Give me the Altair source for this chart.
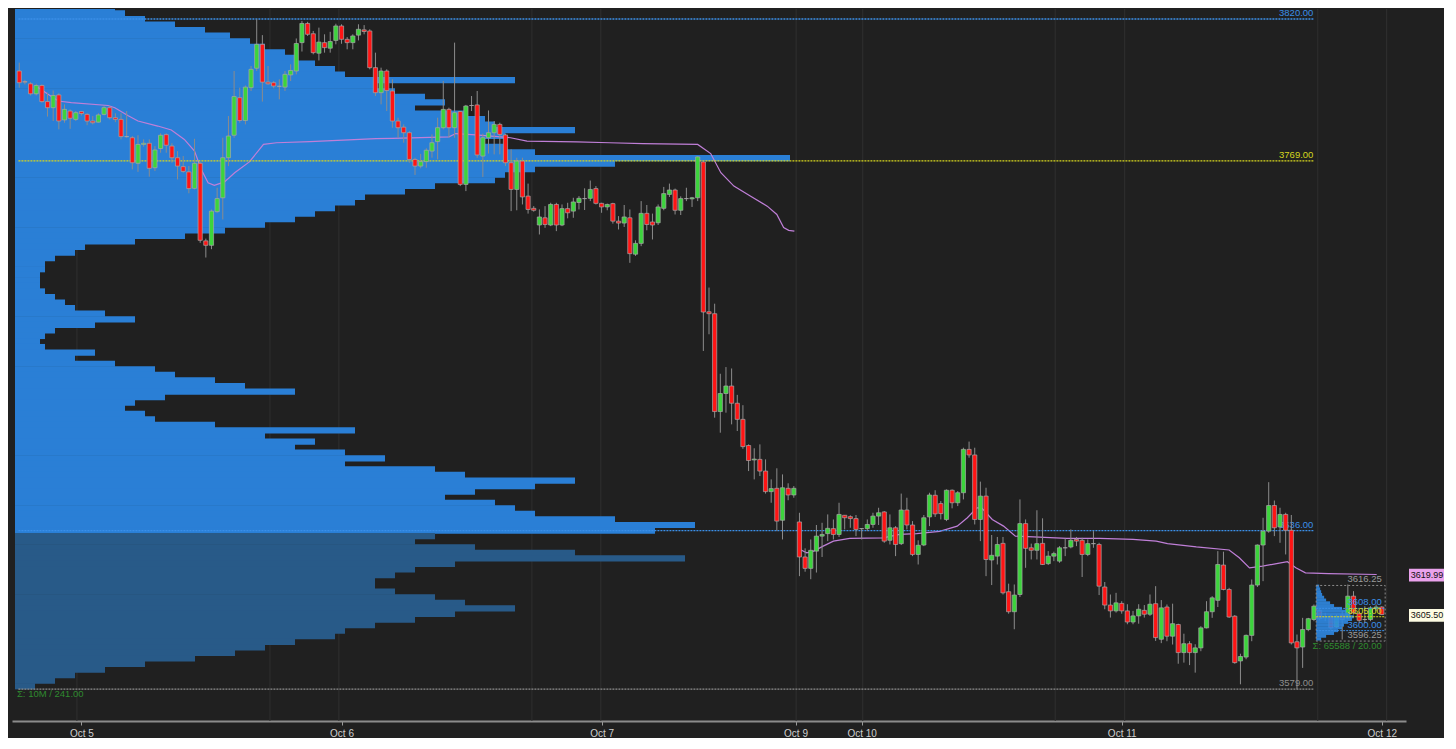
import altair as alt
import pandas as pd

# ---------------- data ----------------
opens = [3801.3,3797.5,3796.7,3793.1,3796.1,3790.3,3788.1,3792.7,3783.7,3786.9,3783.9,3786.7,3785.7,3783.3,3782.9,3785.7,3788.1,3784.5,3783.9,3777.7,
         3777.3,3768.1,3774.9,3775.3,3766.5,3773.4,3778.4,3774.3,3770.1,3766.9,3765.0,3759.1,3768.1,3740.2,3738.6,3750.7,3755.7,3770.1,3778.2,3791.7,
         3783.5,3795.3,3802.3,3810.9,3797.3,3797.1,3795.8,3795.5,3799.9,3801.3,3811.5,3818.4,3814.7,3807.7,3811.5,3809.5,3812.3,3817.5,3812.7,3811.5,
         3814.2,3816.1,3815.7,3802.5,3793.5,3801.3,3794.1,3783.3,3781.1,3779.1,3769.5,3767.1,3768.7,3772.5,3775.9,3780.9,3787.5,3780.9,3786.7,3760.5,
         3788.9,3789.1,3770.7,3777.3,3779.1,3782.1,3778.3,3768.3,3758.7,3768.9,3756.3,3751.9,3745.9,3748.5,3745.9,3753.3,3745.9,3751.8,3750.9,3754.0,
         3755.4,3755.5,3759.0,3753.7,3752.4,3753.6,3747.3,3746.6,3748.5,3735.4,3739.3,3750.1,3747.0,3746.7,3751.9,3756.9,3758.5,3751.2,3755.4,3755.3,
         3755.7,3768.6,3714.7,3714.0,3678.8,3685.3,3688.0,3681.8,3676.0,3666.6,3661.4,3661.6,3657.4,3650.0,3651.2,3639.7,3651.2,3648.8,3639.1,3626.5,
         3622.4,3628.6,3634.0,3634.9,3636.7,3634.6,3641.5,3641.0,3640.3,3636.7,3636.7,3638.2,3641.2,3642.7,3632.5,3637.0,3631.3,3643.4,3638.0,3627.4,
         3630.8,3640.9,3648.7,3645.7,3640.0,3650.5,3646.0,3649.6,3665.2,3663.2,3640.0,3648.4,3625.4,3626.8,3631.4,3614.0,3606.8,3613.0,3638.5,3629.8,
         3628.9,3631.4,3624.1,3626.8,3625.0,3629.8,3630.1,3632.8,3632.5,3627.4,3631.3,3631.0,3615.7,3609.2,3607.1,3609.8,3607.1,3603.1,3605.3,3607.3,
         3605.9,3609.7,3596.9,3608.5,3598.0,3602.2,3592.1,3595.3,3592.1,3593.8,3601.0,3606.8,3610.9,3623.6,3614.8,3605.2,3589.1,3590.5,3598.3,3616.4,
         3630.8,3635.8,3645.0,3637.3,3641.8,3636.1,3596.0,3594.1,3600.4,3604.0,3607.3,3604.9,3605.2,3601.3,3605.6,3604.6,3612.4,3606.1,3604.0,3604.0,
         3608.0,3608.5]
highs = [3804.3,3798.1,3797.3,3796.7,3796.5,3793.5,3794.3,3793.3,3789.3,3787.5,3786.9,3786.9,3786.1,3785.1,3786.1,3788.7,3788.7,3786.1,3786.1,3786.9,
         3777.9,3778.2,3776.7,3776.7,3774.3,3778.9,3778.9,3775.3,3772.5,3770.7,3767.1,3776.9,3768.6,3741.0,3751.5,3759.3,3777.3,3785.1,3801.3,3795.3,
         3796.1,3803.1,3819.9,3814.2,3803.1,3797.7,3798.3,3801.3,3803.7,3813.0,3819.3,3819.0,3815.7,3816.9,3814.5,3815.4,3818.3,3818.1,3813.5,3814.5,
         3818.1,3817.8,3816.3,3807.9,3802.5,3801.9,3798.3,3784.5,3782.1,3779.7,3770.1,3771.5,3773.5,3778.5,3784.5,3797.7,3788.1,3811.5,3786.9,3789.1,
         3792.3,3794.1,3778.8,3787.1,3783.3,3782.7,3778.8,3773.1,3770.1,3770.1,3760.8,3752.7,3751.5,3752.7,3753.9,3753.9,3753.3,3753.9,3755.7,3756.3,
         3759.1,3761.9,3759.9,3753.9,3753.6,3753.9,3749.1,3753.1,3751.5,3740.4,3754.5,3753.1,3750.0,3753.3,3759.6,3760.8,3759.0,3756.2,3759.3,3756.0,
         3770.7,3768.9,3723.4,3717.6,3692.4,3694.8,3694.3,3684.8,3681.1,3667.0,3665.6,3667.0,3661.6,3654.4,3658.4,3656.2,3653.0,3652.0,3642.4,3629.6,
         3632.8,3638.0,3638.8,3641.8,3640.0,3646.0,3641.6,3641.5,3641.6,3636.8,3640.0,3642.4,3644.2,3643.0,3641.8,3637.6,3649.3,3647.8,3639.4,3632.5,
         3641.6,3649.6,3650.5,3646.6,3650.8,3650.8,3650.2,3665.8,3668.0,3665.8,3653.6,3651.4,3634.4,3633.7,3633.7,3616.9,3616.6,3647.2,3640.0,3631.3,
         3643.3,3640.4,3628.6,3628.4,3630.4,3633.2,3636.4,3633.7,3633.4,3632.8,3635.8,3631.6,3617.5,3613.0,3613.6,3610.6,3609.5,3607.1,3609.5,3609.2,
         3613.0,3616.0,3611.0,3609.4,3609.7,3602.5,3598.9,3596.2,3595.1,3601.6,3610.6,3612.4,3628.6,3628.4,3615.4,3605.6,3591.7,3598.6,3618.4,3631.0,
         3640.6,3653.4,3646.8,3644.2,3642.4,3641.6,3598.6,3604.6,3604.6,3609.4,3607.6,3606.4,3605.8,3605.8,3607.0,3616.6,3614.2,3606.8,3608.8,3608.8,
         3609.4,3608.8]
lows = [3795.3,3796.5,3792.5,3792.5,3789.9,3784.9,3783.3,3780.3,3782.7,3780.5,3783.3,3785.3,3781.8,3782.1,3782.7,3785.3,3783.9,3782.9,3776.7,3777.3,
        3765.9,3765.0,3774.1,3763.3,3765.3,3771.9,3771.9,3768.3,3762.3,3764.7,3757.3,3758.7,3739.5,3734.2,3737.2,3750.3,3747.9,3767.1,3777.3,3782.7,
        3782.1,3794.1,3801.3,3790.3,3796.3,3795.1,3791.1,3794.1,3797.7,3800.1,3808.3,3813.9,3807.3,3805.1,3807.9,3807.9,3810.9,3811.1,3809.1,3809.1,
        3812.3,3814.5,3801.9,3792.3,3789.3,3786.9,3780.9,3777.3,3775.5,3768.3,3763.9,3766.3,3766.5,3770.1,3769.5,3780.3,3777.3,3777.3,3759.9,3758.1,
        3786.9,3770.1,3763.2,3771.6,3771.3,3771.3,3767.1,3750.9,3751.2,3753.3,3750.0,3750.7,3742.5,3744.9,3745.5,3743.7,3745.5,3748.3,3748.5,3751.5,
        3751.3,3754.5,3753.3,3750.3,3751.2,3746.4,3744.3,3745.2,3732.3,3734.8,3738.3,3744.0,3740.7,3745.9,3751.2,3756.0,3749.7,3749.5,3754.5,3752.4,
        3754.5,3700.6,3706.6,3676.6,3671.2,3678.4,3674.2,3671.8,3665.4,3657.4,3654.4,3655.6,3649.3,3646.0,3635.8,3632.8,3646.9,3647.8,3619.6,3621.2,
        3618.5,3620.9,3626.5,3632.2,3632.8,3633.7,3636.4,3637.0,3634.0,3632.8,3635.8,3637.0,3638.0,3631.6,3631.0,3626.8,3630.8,3636.4,3626.8,3623.8,
        3630.4,3637.6,3640.9,3640.0,3639.4,3644.0,3644.8,3647.2,3662.2,3638.2,3632.2,3619.6,3616.4,3623.8,3613.0,3606.1,3600.5,3612.1,3622.6,3625.6,
        3625.6,3623.6,3623.6,3625.0,3624.4,3626.8,3629.6,3630.4,3619.3,3626.8,3629.8,3612.8,3607.7,3604.7,3606.5,3606.1,3602.3,3602.3,3602.5,3604.7,
        3605.3,3596.3,3595.5,3596.2,3595.0,3588.1,3588.5,3587.6,3584.9,3592.6,3600.8,3604.6,3608.5,3614.5,3604.6,3588.1,3580.7,3589.7,3596.2,3615.7,
        3617.8,3635.2,3634.0,3631.6,3627.4,3595.0,3578.9,3586.6,3599.8,3603.4,3603.7,3603.4,3600.4,3601.0,3596.8,3604.0,3605.8,3602.8,3602.8,3603.4,
        3607.0,3605.6]
closes = [3797.1,3797.3,3793.1,3796.1,3790.3,3788.1,3792.5,3783.3,3787.5,3784.3,3786.3,3786.0,3783.3,3782.7,3785.5,3788.1,3784.5,3783.9,3777.7,3777.7,
          3768.3,3774.9,3775.3,3766.3,3772.9,3778.2,3774.6,3770.1,3767.1,3765.2,3759.0,3768.1,3740.4,3738.6,3750.9,3755.4,3770.1,3777.9,3792.1,3783.5,
          3795.5,3801.9,3810.9,3797.3,3796.7,3795.9,3795.8,3800.1,3801.5,3811.2,3818.4,3814.5,3807.9,3811.7,3809.7,3811.9,3817.5,3812.7,3811.5,3813.9,
          3816.3,3815.5,3802.5,3793.5,3801.3,3794.3,3783.3,3780.9,3779.1,3769.5,3767.1,3768.7,3772.8,3775.5,3780.9,3787.5,3780.9,3786.3,3760.5,3788.7,
          3788.9,3771.1,3777.3,3779.1,3782.1,3778.5,3768.3,3758.7,3768.9,3756.0,3751.5,3751.2,3748.8,3746.1,3753.3,3745.9,3751.8,3750.3,3754.2,3755.5,
          3755.4,3758.7,3753.7,3752.4,3753.3,3747.3,3746.6,3748.8,3735.6,3739.3,3750.1,3746.1,3745.9,3752.4,3757.2,3758.5,3751.2,3755.4,3755.4,3755.7,
          3770.4,3714.6,3714.0,3678.8,3685.3,3688.0,3681.8,3676.0,3666.2,3661.2,3661.7,3657.4,3650.0,3651.1,3639.4,3651.4,3648.8,3651.2,3626.5,3622.4,
          3628.9,3634.0,3634.6,3636.8,3634.6,3641.8,3640.6,3640.3,3636.4,3636.7,3638.2,3641.2,3642.4,3632.2,3637.0,3631.0,3643.4,3638.0,3627.4,3630.7,
          3640.6,3648.8,3642.0,3642.1,3650.5,3646.0,3649.6,3665.2,3663.2,3640.0,3648.4,3625.6,3627.1,3631.0,3613.6,3606.8,3612.8,3638.5,3629.6,3628.9,
          3631.3,3623.8,3626.8,3627.7,3629.8,3629.8,3632.5,3632.2,3627.4,3631.3,3631.3,3616.0,3609.2,3607.1,3610.0,3607.1,3603.1,3605.3,3607.7,3605.9,
          3609.5,3597.5,3608.2,3598.0,3602.5,3592.1,3595.3,3592.1,3593.8,3601.0,3606.8,3611.8,3623.8,3614.8,3604.9,3588.5,3590.7,3598.3,3616.4,3630.8,
          3635.8,3645.0,3637.0,3641.8,3636.1,3595.6,3593.8,3600.4,3604.3,3608.8,3604.3,3604.9,3601.0,3605.2,3604.0,3612.4,3606.4,3603.7,3604.0,3608.2,
          3608.5,3605.8]

vwap1_idx = [2.8,5.1,6.9,9.2,15.7,16.9,19.2,21,24.5,26.9,29.2,31,32.2,33.4,34.5,36.3,38.1,40.7,43.2,45.5,51.4,57.3,63.1,66,76,77.2,80.7,
             86.9,89.8,98.6,104.4,110.3,120,122.3,124.1,126.4,129.3,132.3,134,135.2,136.1,137.1]
vwap1_val = [3796.1,3792.9,3790.5,3789.9,3788.9,3788.1,3785.3,3783.3,3781.5,3780.1,3776.7,3772.5,3765.9,3761.1,3760.2,3761.4,3764.7,3768.6,
             3774.9,3775.5,3775.9,3776.4,3777.0,3777.1,3777.6,3778.8,3778.3,3777.3,3776.1,3775.8,3775.5,3775.2,3774.9,3771.6,3764.7,3759.9,
             3756.3,3752.7,3749.7,3745.0,3744.0,3743.7]
vwap2_idx = [138.1,139.3,140.5,142.2,144,146.9,152.8,155.7,158.7,162.8,165.9,167.7,169.4,170.3,172.1,174.1,176.2,179.4,185.3,191.1,197,
             201.1,203.1,208.2,214,215.8,217.6,219.9,222.4,224.3,225.8,227.5,231.6,240.1]
vwap2_val = [3629.2,3628.0,3628.6,3630.4,3632.2,3633.2,3633.4,3634.6,3634.9,3635.7,3637.6,3640.6,3644.2,3644.0,3640.0,3637.6,3634.0,3633.7,
             3633.2,3633.2,3632.8,3632.2,3631.3,3630.1,3629.0,3626.2,3622.6,3623.2,3624.1,3624.8,3622.6,3620.8,3620.5,3620.2]

# volume profile (relative volume per 2-point level, from 3824 downwards)
prof_top = 3824
prof_vol = [20,22,26,32,38,43,47,50,54,56,60,64,66,100,72,76,82,86,80,90,94,96,112,98,94,98,104,155,120,104,98,96,84,78,70,68,64,60,
            56,50,42,34,24,14,12,8,6,6,5,5,5,6,8,10,12,18,24,16,8,6,5,6,16,12,20,28,32,40,46,56,30,24,22,26,28,40,68,50,60,56,66,74,
            66,84,90,112,104,92,86,96,100,104,120,136,128,84,80,92,112,134,88,80,76,72,72,76,84,90,100,88,80,72,66,64,56,50,44,36,26,
            18,12,8,4]

# last session's mini profile
mini_price = [3616,3615,3614,3613,3612,3611,3610,3609,3608,3607,3606,3605,3604,3603,3602,3601,3600,3599,3598,3597]
mini_vol = [0.6,0.8,1,1.2,1.6,2,2.8,3.6,5.2,6,6.8,7.6,7.2,6.4,5.6,5.2,4.4,3.6,2,1]

level_price = [3820, 3769, 3636, 3579]
level_text = ["3820.00", "3769.00", "3636.00", "3579.00"]
level_color = ["#3b8fe8", "#d6d61e", "#3b8fe8", "#8e8e8e"]

mini_lbl_price = [3616.25, 3608, 3605, 3600, 3596.25]
mini_lbl_text = ["3616.25", "3608.00", "3605.00", "3600.00", "3596.25"]
mini_lbl_color = ["#9a9a9a", "#3b8fe8", "#d6d61e", "#3b8fe8", "#9a9a9a"]

tag_price = [3619.99, 3605.50]
tag_text = ["3619.99", "3605.50"]
tag_fill = ["#eaa2ec", "#fdfbe2"]

date_ticks = [11, 57, 103, 137.3, 149, 195, 241]
date_labels = ["Oct 5", "Oct 6", "Oct 7", "Oct 9", "Oct 10", "Oct 11", "Oct 12"]
grid_x = [11, 44.9, 57, 90.9, 103, 137.3, 149, 182.8, 195, 228.9, 241]
price_ticks = list(range(3580, 3821, 20))

# ---------------- layout ----------------
W, H = 1394, 712
X_DOM = [-0.4, 244.4]
Y_DOM = [3567.5, 3823.6]
FONT = "Liberation Sans"
LEVEL_END = 228.9
MINI_START = 229.4
MINI_END = 241.6
UP, DOWN, FLAT = "#3cd43c", "#ff1414", "#d8d8d8"

xs = alt.Scale(domain=X_DOM, nice=False, zero=False)
ys = alt.Scale(domain=Y_DOM, nice=False, zero=False)

label_expr = " : ".join(f"datum.value == {v} ? '{t}'" for v, t in zip(date_ticks, date_labels)) + " : ''"
xaxis = alt.Axis(values=date_ticks, labelExpr=label_expr, grid=False, title=None,
                 domainColor="#8c8c8c", domainWidth=2, tickColor="#9a9a9a", tickSize=4,
                 labelColor="#cfcfcf", labelFontSize=10, labelFont=FONT, labelPadding=3)
yaxis = alt.Axis(orient="right", values=price_ticks, format=".2f", title=None, grid=True,
                 gridColor="#2f2f2f", gridWidth=1, domainColor="#8c8c8c", domainWidth=1.5,
                 tickColor="#9a9a9a", tickSize=4, labelColor="#cfcfcf", labelFontSize=9,
                 labelFont=FONT, labelPadding=2)

n = len(opens)
candles = pd.DataFrame({"i": list(range(n)), "o": opens, "h": highs, "l": lows, "c": closes})
candles["col"] = [UP if c > o else (DOWN if c < o else FLAT) for o, c in zip(opens, closes)]

vw = pd.DataFrame({"i": vwap1_idx + vwap2_idx, "v": vwap1_val + vwap2_val,
                   "s": ["a"] * len(vwap1_idx) + ["b"] * len(vwap2_idx)})

prof = pd.DataFrame({"p": [prof_top - 2 * k for k in range(len(prof_vol))], "v": prof_vol})
mini = pd.DataFrame({"p": mini_price, "v": mini_vol})
levels = pd.DataFrame({"p": level_price, "t": level_text, "col": level_color})
mini_lbl = pd.DataFrame({"p": mini_lbl_price, "t": mini_lbl_text, "col": mini_lbl_color})
tags = pd.DataFrame({"p": tag_price, "t": tag_text, "col": tag_fill})
gx = pd.DataFrame({"i": grid_x})

# ---------------- layers ----------------
grid_layer = alt.Chart(gx).mark_rule(color="#2f2f2f", strokeWidth=1).encode(
    x=alt.X("i:Q", scale=xs, axis=None))

profile = alt.Chart(prof).transform_calculate(
    lo="datum.p - 1.12", hi="datum.p + 1.12", z="0",
    col="datum.p >= 3636 ? '#2a7fd6' : '#285a88'"
).mark_bar(clip=True, opacity=1).encode(
    y=alt.Y("lo:Q", scale=ys, axis=None), y2="hi:Q",
    x=alt.X("z:Q", scale=alt.Scale(domain=[-0.6, 278.2], nice=False, zero=False), axis=None),
    x2="v:Q",
    color=alt.Color("col:N", scale=None),
)

vwap = alt.Chart(vw).mark_line(color="#c07fd8", strokeWidth=1.2).encode(
    x=alt.X("i:Q", scale=xs, axis=xaxis), y=alt.Y("v:Q", scale=ys, axis=yaxis), detail="s:N")

level_rules = alt.Chart(levels).transform_calculate(x0="-0.15", x1=str(LEVEL_END)).mark_rule(
    strokeWidth=1.3, strokeDash=[2, 1]).encode(
    x=alt.X("x0:Q", scale=xs, axis=xaxis), x2="x1:Q",
    y=alt.Y("p:Q", scale=ys, axis=yaxis),
    color=alt.Color("col:N", scale=None))

level_texts = alt.Chart(levels).transform_calculate(x1=str(LEVEL_END)).mark_text(
    align="right", baseline="bottom", dy=-1, fontSize=9.5, font=FONT).encode(
    x=alt.X("x1:Q", scale=xs, axis=xaxis), y=alt.Y("p:Q", scale=ys, axis=yaxis),
    text="t:N", color=alt.Color("col:N", scale=None))

mini_bars = alt.Chart(mini).transform_calculate(
    lo="datum.p - 0.55", hi="datum.p + 0.55", x0=str(MINI_START), x1=f"{MINI_START} + datum.v * 0.878"
).mark_bar(color="#2f88e2", opacity=0.9).encode(
    x=alt.X("x0:Q", scale=xs, axis=xaxis), x2="x1:Q",
    y=alt.Y("lo:Q", scale=ys, axis=yaxis), y2="hi:Q")

mini_box = alt.Chart(pd.DataFrame({"a": [3596.25], "b": [3616.25]})).transform_calculate(
    x0=str(MINI_START), x1=str(MINI_END)).mark_rect(
    fill=None, stroke="#8a8a8a", strokeDash=[2, 2], strokeWidth=1).encode(
    x=alt.X("x0:Q", scale=xs, axis=xaxis), x2="x1:Q",
    y=alt.Y("a:Q", scale=ys, axis=yaxis), y2="b:Q")

mini_lines = alt.Chart(mini_lbl.iloc[1:4]).transform_calculate(
    x0=str(MINI_START), x1=str(MINI_END)).mark_rule(strokeDash=[2, 1], strokeWidth=1).encode(
    x=alt.X("x0:Q", scale=xs, axis=xaxis), x2="x1:Q",
    y=alt.Y("p:Q", scale=ys, axis=yaxis), color=alt.Color("col:N", scale=None))

mini_texts = alt.Chart(mini_lbl).transform_calculate(x1=str(MINI_END - 0.6)).mark_text(
    align="right", baseline="bottom", dy=-1, fontSize=9.5, font=FONT).encode(
    x=alt.X("x1:Q", scale=xs, axis=xaxis), y=alt.Y("p:Q", scale=ys, axis=yaxis),
    text="t:N", color=alt.Color("col:N", scale=None))

sigma_small = alt.Chart(pd.DataFrame({"p": [3594.6], "t": ["\u03a3: 65588 / 20.00"]})).transform_calculate(
    x1=str(MINI_END - 0.6)).mark_text(align="right", baseline="middle", fontSize=9.5, font=FONT,
                                     color="#2f8a2f").encode(
    x=alt.X("x1:Q", scale=xs, axis=xaxis), y=alt.Y("p:Q", scale=ys, axis=yaxis), text="t:N")

sigma_big = alt.Chart(pd.DataFrame({"p": [3577.3], "t": ["\u03a3: 10M / 241.00"]})).mark_text(
    align="left", baseline="middle", fontSize=9.5, font=FONT, color="#2f8a2f").encode(
    x=alt.value(5), y=alt.Y("p:Q", scale=ys, axis=yaxis), text="t:N")

wicks = alt.Chart(candles).mark_rule(color="#8c8c8c", strokeWidth=1).encode(
    x=alt.X("i:Q", scale=xs, axis=xaxis), y=alt.Y("l:Q", scale=ys, axis=yaxis), y2="h:Q")

bodies = alt.Chart(candles).mark_bar(size=4.2, stroke="#a8a8a8", strokeWidth=0.7).encode(
    x=alt.X("i:Q", scale=xs, axis=xaxis), y=alt.Y("o:Q", scale=ys, axis=yaxis), y2="c:Q",
    color=alt.Color("col:N", scale=None))

tag_rect = alt.Chart(tags).transform_calculate(lo="datum.p - 2.3", hi="datum.p + 2.3").mark_rect(
    clip=False).encode(
    x=alt.value(W + 3), x2=alt.value(W + 38),
    y=alt.Y("lo:Q", scale=ys, axis=yaxis), y2="hi:Q", fill=alt.Fill("col:N", scale=None))

tag_text_l = alt.Chart(tags).mark_text(fontSize=9, font=FONT, color="#111111", clip=False).encode(
    x=alt.value(W + 21), y=alt.Y("p:Q", scale=ys, axis=yaxis), text="t:N")

main = alt.layer(vwap, level_rules, level_texts, wicks, bodies, mini_bars, mini_box, mini_lines,
                 mini_texts, sigma_small, sigma_big, tag_rect, tag_text_l)

chart = alt.layer(grid_layer, profile, main).resolve_scale(x="independent").properties(
    width=W, height=H, background="#202020",
    padding={"left": 4, "top": 0, "right": 0, "bottom": 0},
).configure_view(strokeWidth=0)

chart.save("out.html", embed_options={"renderer": "svg", "actions": False})
